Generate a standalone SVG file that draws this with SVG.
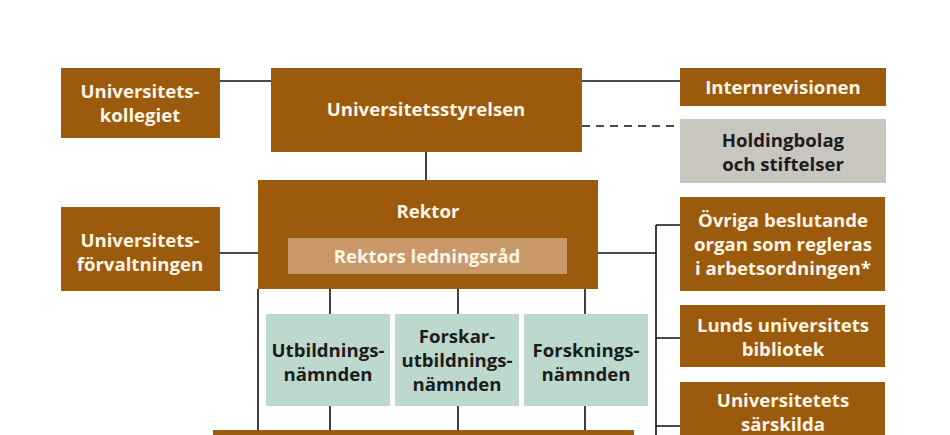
<svg xmlns="http://www.w3.org/2000/svg" width="950" height="435" viewBox="0 0 950 435">
<style>
.b{fill:#9b5a0c}
.g{fill:#c9c5bf}
.c{fill:#bdd9cd}
.i{fill:#c8986a}
text{font-family:"Open Sans","Liberation Sans",sans-serif;font-weight:bold;font-size:18.6px;text-anchor:middle}
.w{fill:#fdf5e6}
.d{fill:#1c1c1c}
.ln{stroke:#111;stroke-width:1.6;fill:none}
.dash{stroke-dasharray:8 6}
</style>
<rect width="950" height="435" fill="#fff"/>
<g id="connectors">
<path class="ln" d="M220 81H271M582 81H680M426 152V180M220 253H258M598 253H656M656 225V435M656 225H680M656 338H680M656 426H680M258 289V430M330 289V314M458 289V314M585 289V314M330 406V430M458 406V430M585 406V430"/>
<path class="ln dash" d="M582 126H680"/>
</g>
<g id="kollegiet"><rect class="b" x="61" y="68" width="159" height="70"/><text class="w" x="140" y="98">Universitets-</text><text class="w" x="140" y="122">kollegiet</text></g>
<g id="styrelsen"><rect class="b" x="271" y="68" width="311" height="84"/><text class="w" x="426" y="116">Universitetsstyrelsen</text></g>
<g id="internrevisionen"><rect class="b" x="680" y="68" width="206" height="38"/><text class="w" x="783" y="94">Internrevisionen</text></g>
<g id="holding"><rect class="g" x="680" y="119" width="206" height="64"/><text class="d" x="783" y="147">Holdingbolag</text><text class="d" x="783" y="171">och stiftelser</text></g>
<g id="forvaltningen"><rect class="b" x="61" y="207" width="159" height="84"/><text class="w" x="140" y="247">Universitets-</text><text class="w" x="140" y="271">förvaltningen</text></g>
<g id="rektor"><rect class="b" x="258" y="180" width="340" height="109"/><text class="w" x="428" y="218">Rektor</text>
<g id="ledningsrad"><rect class="i" x="288" y="238" width="279" height="36"/><text class="w" x="427" y="263">Rektors ledningsråd</text></g></g>
<g id="ovriga"><rect class="b" x="680" y="197" width="205" height="94"/><text class="w" x="783" y="227">Övriga beslutande</text><text class="w" x="783" y="251">organ som regleras</text><text class="w" x="783" y="275">i arbetsordningen*</text></g>
<g id="lub"><rect class="b" x="680" y="305" width="205" height="62"/><text class="w" x="783" y="332">Lunds universitets</text><text class="w" x="783" y="356">bibliotek</text></g>
<g id="sarskilda"><rect class="b" x="680" y="382" width="205" height="60"/><text class="w" x="783" y="407">Universitetets</text><text class="w" x="783" y="431">särskilda</text></g>
<g id="utb"><rect class="c" x="266" y="314" width="124" height="92"/><text class="d" x="328" y="357">Utbildnings-</text><text class="d" x="328" y="381">nämnden</text></g>
<g id="forskarutb"><rect class="c" x="395" y="314" width="124" height="92"/><text class="d" x="457" y="343">Forskar-</text><text class="d" x="457" y="367">utbildnings-</text><text class="d" x="457" y="391">nämnden</text></g>
<g id="forsk"><rect class="c" x="524" y="314" width="124" height="92"/><text class="d" x="586" y="357">Forsknings-</text><text class="d" x="586" y="381">nämnden</text></g>
<g id="bottom"><rect class="b" x="213" y="430" width="421" height="10"/></g>
</svg>
